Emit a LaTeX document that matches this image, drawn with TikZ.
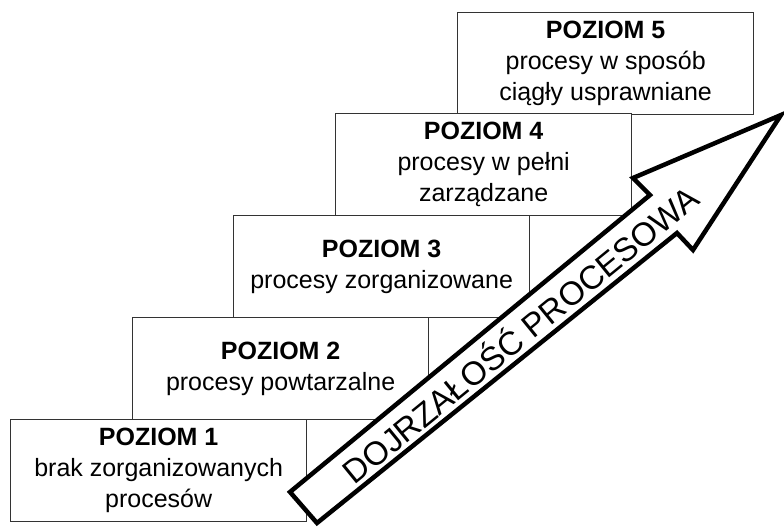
\documentclass[tikz,border=0pt]{standalone}
\usepackage{fontspec}
\setmainfont{Liberation Sans}
\usetikzlibrary{positioning}

\begin{document}
\begin{tikzpicture}[x=1pt,y=-1pt,
  level/.style={rectangle,draw=black!80,line width=1.3pt,fill=white,
    minimum width=296pt,minimum height=102pt,anchor=north west,
    align=center,inner sep=0pt,font=\fontsize{25}{31}\selectfont},
  maturity/.style={draw=black,line width=4.5pt,line join=miter,fill=white}]
  \useasboundingbox (0,0) rectangle (784,527);
  % schody poziomow
  \node[level] (p5) at (457,12) {\textbf{POZIOM 5}\\procesy w sposób\\ciągły usprawniane};
  \node[level] (p4) at (335,113) {\textbf{POZIOM 4}\\procesy w pełni\\zarządzane};
  \node[level] (p3) at (233,215) {\textbf{POZIOM 3}\\procesy zorganizowane};
  \node[level] (p2) at (132,317) {\textbf{POZIOM 2}\\procesy powtarzalne};
  \node[level] (p1) at (10,419) {\textbf{POZIOM 1}\\brak zorganizowanych\\procesów};
  % strzalka dojrzalosci
  \coordinate (tailA) at (290,492);
  \coordinate (joinA) at (650,195);
  \coordinate (barbA) at (633,178);
  \coordinate (tip) at (781,115);
  \coordinate (barbB) at (693,250);
  \coordinate (joinB) at (677,233);
  \coordinate (tailB) at (317,523);
  \draw[maturity] (tailA) -- (joinA) -- (barbA) -- (tip) -- (barbB) -- (joinB) -- (tailB) -- cycle;
  \node[rotate=39.2,inner sep=0pt,font=\fontsize{33}{33}\selectfont] (lbl) at (519,333) {DOJRZAŁOŚĆ PROCESOWA};
\end{tikzpicture}
\end{document}
